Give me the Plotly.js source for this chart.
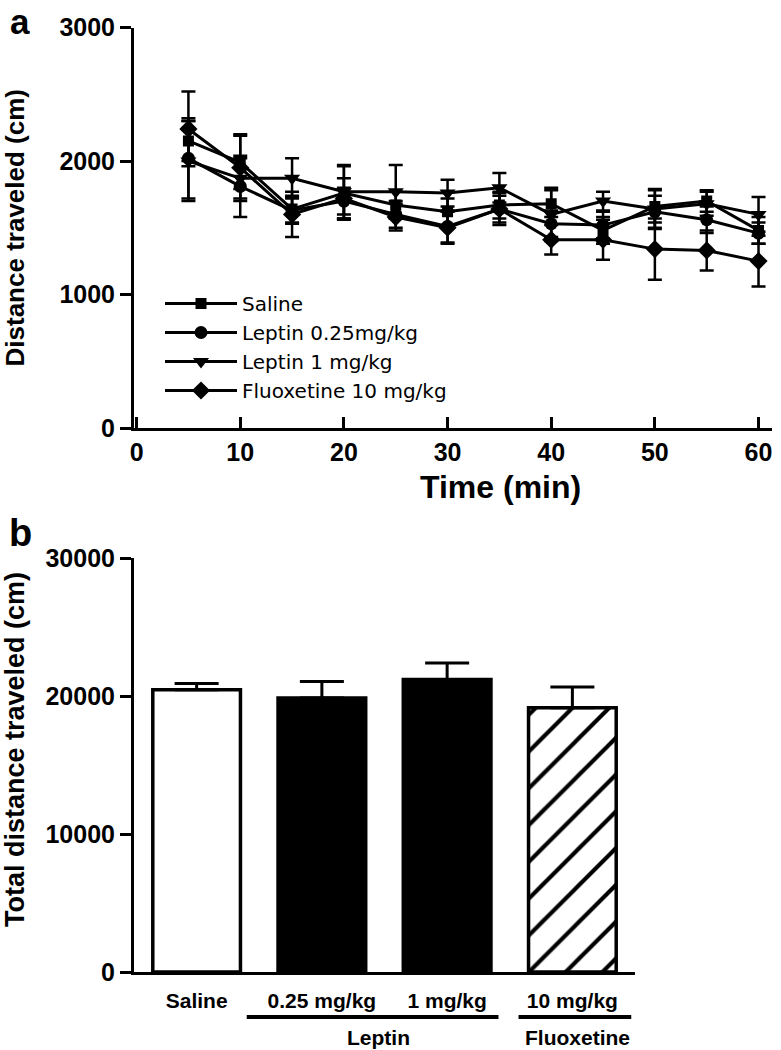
<!DOCTYPE html>
<html>
<head>
<meta charset="utf-8">
<script src="https://cdn.plot.ly/plotly-3.0.1.min.js"></script>
<style>html,body{margin:0;padding:0;background:#fff;}#chart{width:781px;height:1050px;}</style>
</head>
<body>
<div id="chart"></div>
<script>
// ---- Panel a data ----
const timeMin = [5, 10, 15, 20, 25, 30, 35, 40, 45, 50, 55, 60];
const salineMean = [2150, 1990, 1640, 1760, 1670, 1620, 1670, 1680, 1480, 1660, 1700, 1480];
const salineSem  = [150, 200, 100, 200, 100, 100, 100, 100, 100, 120, 80, 100];
const lep025Mean = [2020, 1810, 1630, 1700, 1600, 1510, 1640, 1530, 1520, 1620, 1560, 1460];
const lep025Sem  = [300, 230, 100, 100, 100, 120, 100, 100, 100, 120, 100, 80];
const lep1Mean   = [2000, 1870, 1870, 1770, 1770, 1760, 1800, 1600, 1700, 1640, 1680, 1600];
const lep1Sem    = [300, 150, 150, 200, 200, 100, 110, 200, 70, 150, 90, 130];
const fluoMean   = [2240, 1950, 1600, 1720, 1580, 1500, 1640, 1410, 1410, 1340, 1330, 1250];
const fluoSem    = [280, 250, 170, 150, 100, 120, 120, 110, 150, 230, 150, 190];
const seriesNames = ["Saline", "Leptin 0.25mg/kg", "Leptin 1 mg/kg", "Fluoxetine 10 mg/kg"];

// ---- Panel b data ----
const barCategories = ["Saline", "0.25 mg/kg", "1 mg/kg", "10 mg/kg"];
const totalMean = [20450, 19850, 21200, 19150];
const totalSem  = [450, 1200, 1200, 1500];
const groupLabels = ["Leptin", "Fluoxetine"];

const W = 781, H = 1050;
const FONT = "Liberation Sans, Arial, sans-serif";
const BOLD = (s) => ({size: s, family: FONT, color: "#000", weight: "bold"});

function lineTrace(name, y, e, sym, size) {
  return {
    type: "scatter", mode: "lines+markers", name: name,
    x: timeMin, y: y,
    xaxis: "x", yaxis: "y",
    line: {color: "#000", width: 3},
    marker: {symbol: sym, size: size, color: "#000"},
    error_y: {type: "data", array: e, visible: true, color: "#000", thickness: 2.5, width: 7}
  };
}

const barIdx = [0, 1, 2, 3];
const traces = [
  lineTrace(seriesNames[0], salineMean, salineSem, "square", 11),
  lineTrace(seriesNames[1], lep025Mean, lep025Sem, "circle", 13),
  lineTrace(seriesNames[2], lep1Mean, lep1Sem, "triangle-down", 14),
  lineTrace(seriesNames[3], fluoMean, fluoSem, "diamond", 14),
  {
    type: "bar", x: barIdx.slice(0, 3), y: totalMean.slice(0, 3), xaxis: "x2", yaxis: "y2",
    showlegend: false, width: 0.7,
    marker: {color: ["#fff", "#000", "#000"], line: {color: "#000", width: 3.5}},
    error_y: {type: "data", symmetric: false, array: totalSem.slice(0, 3), arrayminus: [0, 0, 0],
              visible: true, color: "#000", thickness: 3, width: 22}
  },
  {
    type: "bar", x: barIdx.slice(3), y: totalMean.slice(3), xaxis: "x2", yaxis: "y2",
    showlegend: false, width: 0.7,
    marker: {color: "#fff", line: {color: "#000", width: 3.5},
             pattern: {shape: "/", fgcolor: "#000", bgcolor: "#fff", fillmode: "replace", size: 26, solidity: 0.16}},
    error_y: {type: "data", symmetric: false, array: totalSem.slice(3), arrayminus: [0],
              visible: true, color: "#000", thickness: 3, width: 22}
  }
];

const px2x = p => p / W;
const py2y = p => 1 - p / H;

const layout = {
  width: W, height: H,
  margin: {l: 0, r: 0, t: 0, b: 0},
  paper_bgcolor: "#fff", plot_bgcolor: "#fff",
  font: {family: FONT, color: "#000"},
  showlegend: true,
  barmode: "overlay",
  legend: {
    x: px2x(160), y: py2y(284), xanchor: "left", yanchor: "top",
    bgcolor: "rgba(0,0,0,0)", font: {size: 20, family: "DejaVu Sans, sans-serif", color: "#000"},
    itemwidth: 72, tracegroupgap: 0, traceorder: "normal"
  },
  xaxis: {
    domain: [px2x(134), px2x(772)], range: [-0.25, 61.3], anchor: "y",
    showgrid: false, zeroline: false, showline: true, linewidth: 3, linecolor: "#000",
    ticks: "inside", ticklen: 11, tickwidth: 3, tickcolor: "#000",
    tickvals: [0, 10, 20, 30, 40, 50, 60], ticklabelstandoff: 0,
    tickfont: BOLD(25)
  },
  yaxis: {
    domain: [py2y(428), py2y(27.5)], range: [0, 3000], anchor: "x",
    showgrid: false, zeroline: false, showline: true, linewidth: 3, linecolor: "#000",
    ticks: "outside", ticklen: 11, tickwidth: 3, tickcolor: "#000",
    tickvals: [0, 1000, 2000, 3000], tickformat: "d",
    tickfont: BOLD(25),
    title: {text: "Distance traveled (cm)", font: BOLD(26), standoff: 32}
  },
  xaxis2: {
    domain: [px2x(134), px2x(635)], range: [-0.5, 3.5], anchor: "y2",
    showgrid: false, zeroline: false, showline: true, linewidth: 3, linecolor: "#000",
    ticks: "", tickvals: barIdx, ticktext: barCategories, ticklabelstandoff: 8,
    tickfont: BOLD(21)
  },
  yaxis2: {
    domain: [py2y(972), py2y(558)], range: [0, 30000], anchor: "x2",
    showgrid: false, zeroline: false, showline: true, linewidth: 3, linecolor: "#000",
    ticks: "outside", ticklen: 11, tickwidth: 3, tickcolor: "#000",
    tickvals: [0, 10000, 20000, 30000], tickformat: "d",
    tickfont: BOLD(25)
  },
  shapes: [
    {type: "line", xref: "x2", yref: "paper", x0: 0.4, x1: 2.41, y0: py2y(1017), y1: py2y(1017),
     line: {color: "#000", width: 4}},
    {type: "line", xref: "x2", yref: "paper", x0: 2.57, x1: 3.47, y0: py2y(1017), y1: py2y(1017),
     line: {color: "#000", width: 4}}
  ],
  annotations: [
    {text: "Total distance traveled (cm)", xref: "paper", yref: "paper", x: px2x(15), y: py2y(750),
     textangle: -90, showarrow: false, xanchor: "center", yanchor: "middle", font: BOLD(27)},
    {text: "Time (min)", xref: "paper", yref: "paper", x: px2x(500), y: py2y(487), showarrow: false,
     xanchor: "center", yanchor: "middle", font: BOLD(32)},
    {text: groupLabels[0], xref: "x2", yref: "paper", x: 1.45, y: py2y(1037), showarrow: false,
     xanchor: "center", yanchor: "middle", font: BOLD(21)},
    {text: groupLabels[1], xref: "x2", yref: "paper", x: 3.04, y: py2y(1037), showarrow: false,
     xanchor: "center", yanchor: "middle", font: BOLD(21)},
    {text: "a", xref: "paper", yref: "paper", x: px2x(20), y: 1, showarrow: false,
     xanchor: "center", yanchor: "top", font: BOLD(35)},
    {text: "b", xref: "paper", yref: "paper", x: px2x(20), y: py2y(533), showarrow: false,
     xanchor: "center", yanchor: "middle", font: BOLD(38)}
  ]
};

Plotly.newPlot("chart", traces, layout, {displayModeBar: false, staticPlot: true});
</script>
</body>
</html>
